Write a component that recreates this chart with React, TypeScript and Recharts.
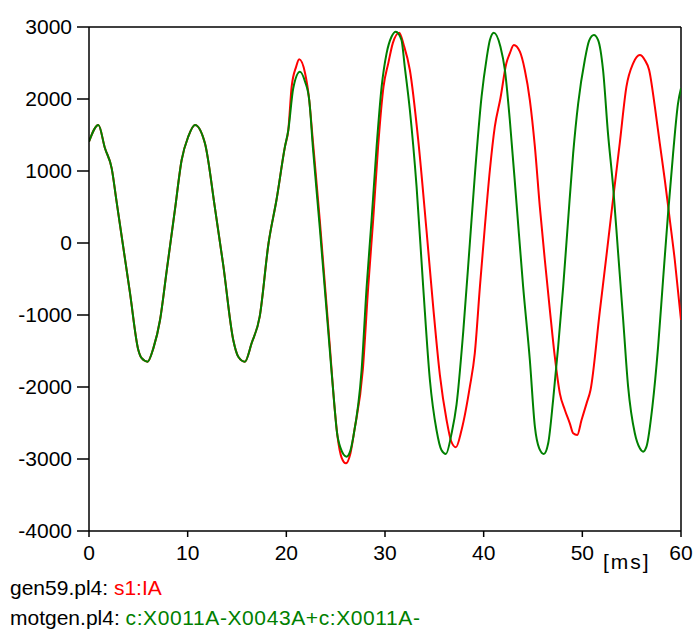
import { Line, LineChart, ReferenceLine, XAxis, YAxis } from "recharts";

// 0..20 ms: both traces lie on top of each other
const sharedT = [0, 0.95, 1.62, 2.3, 2.8, 3.48, 4.15, 5.0, 5.34, 5.94, 6.52, 7.2, 7.87, 8.71, 9.39, 10.06, 10.74, 11.75, 12.77, 13.6, 14.62, 15.13, 15.8, 16.48, 17.3, 18.2, 19.0, 19.86, 20.2];
const sharedV = [1407, 1639, 1315, 1037, 570, -65, -690, -1486, -1600, -1648, -1463, -1069, -390, 462, 1153, 1477, 1639, 1384, 480, -300, -1347, -1579, -1648, -1393, -1023, 0, 597, 1338, 1569];

// s1:IA (red) after 20 ms
const redT = [20.54, 21.0, 21.3, 21.9, 22.32, 22.7, 23.4, 23.9, 24.4, 24.9, 25.2, 25.6, 26.04, 26.5, 26.9, 27.75, 28.3, 28.8, 29.3, 29.85, 30.33, 30.8, 31.44, 31.9, 32.52, 33.36, 34.21, 34.88, 35.56, 36.24, 36.7, 37.18, 37.76, 38.6, 39.1, 39.62, 40.12, 40.63, 41.13, 41.7, 42.3, 42.65, 43.06, 43.67, 44.17, 44.68, 45.19, 45.69, 46.2, 46.71, 47.21, 47.72, 48.23, 48.73, 49.07, 49.48, 49.92, 50.43, 50.83, 51.77, 52.45, 53.12, 53.8, 54.47, 55.15, 55.83, 56.33, 56.77, 57.35, 57.85, 58.36, 58.87, 59.37, 60];
const redV = [2171, 2450, 2551, 2357, 1986, 1400, 300, -560, -1420, -2300, -2700, -2980, -3060, -2920, -2600, -1764, -607, 319, 1338, 2171, 2495, 2780, 2921, 2750, 2403, 1440, 170, -880, -1830, -2458, -2750, -2838, -2597, -1996, -1532, -607, 226, 1014, 1616, 2010, 2495, 2634, 2750, 2657, 2403, 1986, 1338, 505, -236, -931, -1579, -2088, -2319, -2505, -2643, -2667, -2458, -2227, -2042, -949, -167, 616, 1394, 2171, 2495, 2611, 2542, 2403, 1893, 1384, 875, 319, -236, -1069];

// c:X0011A-X0043A+c:X0011A- (green) after 20 ms
const greenT = [20.7, 21.38, 21.9, 22.32, 22.7, 23.4, 23.9, 24.4, 24.9, 25.1, 25.5, 26.1, 26.5, 26.78, 27.63, 28.14, 28.64, 29.15, 29.66, 30.16, 30.66, 31.1, 31.67, 32.0, 32.52, 33.2, 33.87, 34.55, 35.22, 35.72, 36.17, 36.75, 37.25, 37.93, 38.6, 39.1, 39.79, 40.3, 40.63, 41.03, 41.7, 42.15, 42.65, 43.33, 44.0, 44.68, 45.19, 45.63, 46.1, 46.54, 47.04, 47.55, 48.06, 48.56, 49.07, 49.58, 50.25, 50.69, 51.17, 51.6, 52.1, 52.6, 53.12, 53.63, 54.14, 54.64, 55.32, 55.83, 56.16, 56.5, 57.1, 57.68, 58.18, 58.69, 59.2, 59.7, 60];
const greenV = [2150, 2380, 2240, 1986, 1315, 199, -639, -1481, -2300, -2597, -2850, -2968, -2880, -2700, -1764, -607, 319, 1338, 2171, 2634, 2865, 2935, 2819, 2450, 1847, 782, -607, -1903, -2597, -2875, -2930, -2643, -2245, -1230, 0, 931, 2035, 2565, 2819, 2921, 2727, 2403, 1708, 551, -607, -1625, -2551, -2852, -2930, -2782, -2180, -1440, -607, 319, 1245, 1940, 2542, 2810, 2889, 2819, 2403, 1523, 782, -143, -1069, -1996, -2643, -2852, -2898, -2829, -2273, -1440, -514, 412, 1245, 1940, 2150];

const xTicks = [0, 10, 20, 30, 40, 50, 60];
const yTicks = [-4000, -3000, -2000, -1000, 0, 1000, 2000, 3000];

const toPoints = (ts: number[], vs: number[]) => ts.map((t, i) => ({ t, v: vs[i] }));

const redData = toPoints(sharedT.concat(redT), sharedV.concat(redV));
const greenData = toPoints(sharedT.concat(greenT), sharedV.concat(greenV));

const FONT = "'Liberation Sans', Arial, sans-serif";
const tickStyle = { fontSize: 21, fill: "#000", fontFamily: FONT };

export default function App() {
  return (
    <div style={{ position: "absolute", left: 0, top: 0, width: 697, height: 633, background: "#fff", fontFamily: FONT }}>
      <LineChart width={697} height={633} margin={{ top: 27, right: 16, left: 0, bottom: 72 }}>
        <XAxis
          dataKey="t"
          type="number"
          domain={[0, 60]}
          ticks={xTicks}
          height={30}
          tickSize={6}
          tickMargin={8}
          tick={tickStyle}
          axisLine={{ stroke: "#000", strokeWidth: 1.5 }}
          tickLine={{ stroke: "#000", strokeWidth: 1.5 }}
          allowDataOverflow
        />
        <YAxis
          type="number"
          domain={[-4000, 3000]}
          ticks={yTicks}
          width={89}
          tickSize={12}
          tickMargin={5}
          tick={tickStyle}
          axisLine={{ stroke: "#000", strokeWidth: 1.5 }}
          tickLine={{ stroke: "#000", strokeWidth: 1.5 }}
          allowDataOverflow
        />
        <ReferenceLine y={3000} stroke="#000" strokeWidth={1.5} />
        <ReferenceLine x={60} stroke="#000" strokeWidth={1.5} />
        <Line data={redData} dataKey="v" type="monotone" stroke="#ff0000" strokeWidth={2} dot={false} isAnimationActive={false} />
        <Line data={greenData} dataKey="v" type="monotone" stroke="#008000" strokeWidth={2} dot={false} isAnimationActive={false} />
      </LineChart>
      <div style={{ position: "absolute", left: 603, top: 551, fontSize: 21, lineHeight: "21px", letterSpacing: 2, color: "#000" }}>[ms]</div>
      <div style={{ position: "absolute", left: 10, top: 577, fontSize: 21, lineHeight: "21px", color: "#000", whiteSpace: "nowrap" }}>
        gen59.pl4: <span style={{ color: "#ff0000" }}>s1:IA</span>
      </div>
      <div style={{ position: "absolute", left: 10, top: 607, fontSize: 21, lineHeight: "21px", color: "#000", whiteSpace: "nowrap" }}>
        motgen.pl4: <span style={{ color: "#008000", letterSpacing: 0.6 }}>c:X0011A-X0043A+c:X0011A-</span>
      </div>
    </div>
  );
}
